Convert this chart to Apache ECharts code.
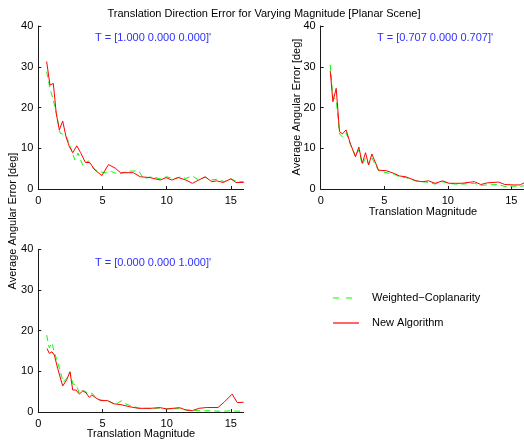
<!DOCTYPE html>
<html>
<head>
<meta charset="utf-8">
<script src="https://cdn.jsdelivr.net/npm/echarts@6/dist/echarts.min.js"></script>
<style>html,body{margin:0;padding:0;background:#fff;}#c{width:524px;height:441px;}</style>
</head>
<body>
<div id="c"></div>
<script>
// ---- data ----
const xTicks = [0, 5, 10, 15];
const yTicks = [0, 10, 20, 30, 40];
const seriesNames = ['Weighted\u2212Coplanarity', 'New Algorithm'];
const panelLabels = ["T = [1.000 0.000 0.000]'", "T = [0.707 0.000 0.707]'", "T = [0.000 0.000 1.000]'"];

// Panel 1: T = [1 0 0]
const p1GreenX = [0.65,0.91,1.17,1.43,1.7,1.95,2.2,2.5,2.85,3.1,3.45,3.9,4.25,4.7,5.2,5.7,6.25,6.9,7.8,8.2,8.85,9.5,10.0,10.55,11.1,11.5,12.0,12.5,13.0,13.5,13.9,14.5,15.0,15.5,16.0];
const p1GreenY = [28.8,24.7,21.8,18.2,13.7,13.4,12.8,10.4,7.1,8.8,5.9,6.9,5.1,4.3,4.0,4.3,3.6,4.3,4.5,2.6,3.0,2.5,3.0,2.5,3.0,2.6,3.2,2.2,2.9,2.2,2.4,1.8,2.5,1.8,1.8];
const p1RedX = [0.65,0.91,1.17,1.4,1.64,1.9,2.16,2.42,2.68,3.0,3.3,3.67,4.0,4.4,4.95,5.47,6.0,6.4,7.4,7.94,8.7,9.5,9.95,10.4,10.9,11.5,12.0,12.5,13.0,13.5,13.9,14.4,15.0,15.4,16.0];
const p1RedY = [31.3,25.5,25.9,18.5,14.5,16.7,12.8,10.4,8.9,10.6,8.9,6.5,6.5,4.7,3.3,6.0,5.1,4.0,4.0,3.0,2.8,2.2,2.8,2.2,2.8,2.2,1.4,2.2,3.0,1.8,2.0,1.6,2.5,1.6,1.6];

// Panel 2: T = [0.707 0 0.707]
const p2X = [0.75,0.96,1.22,1.48,1.7,2.0,2.35,2.74,3.0,3.27,3.53,3.77,4.03,4.55,5.15,5.8,6.2,6.7,7.5,8.0,8.5,9.0,9.6,10.1,10.6,11.1,12.1,12.6,13.1,14.0,14.5,15.2,15.7,16.0];
const p2GreenY = [30.5,22.5,22.0,13.5,12.8,13.8,10.8,8.0,9.6,6.0,7.6,6.0,7.6,4.5,4.0,3.6,3.0,2.8,2.0,1.8,1.6,1.2,1.8,1.4,1.2,1.2,1.4,0.9,1.0,1.1,0.6,0.7,0.6,0.8];
const p2RedY = [29.0,21.4,24.7,14.1,13.5,14.5,11.0,7.9,10.3,6.3,8.9,5.9,8.6,4.6,4.5,3.8,3.2,3.0,2.0,1.8,2.0,1.4,2.0,1.4,1.4,1.4,1.8,1.1,1.5,1.7,1.1,1.0,1.0,1.5];

// Panel 3: T = [0 0 1]
const p3GreenX = [0.65,0.85,1.07,1.25,1.55,1.95,2.2,2.45,2.7,2.95,3.2,3.5,3.95,4.2,4.6,5.0,5.5,6.0,6.5,6.8,7.2,7.8,8.5,9.0,9.5,10.0,10.5,11.0,11.5,12.0,12.5,13.0,13.5,14.0,14.5,15.0,15.5,16.0];
const p3GreenY = [18.9,15.8,17.0,14.6,11.8,7.3,8.2,9.8,6.9,6.7,4.6,5.3,4.5,4.6,3.1,2.9,2.6,1.8,2.8,2.0,1.5,1.0,0.9,0.9,1.0,0.8,0.8,0.8,0.5,0.4,0.4,0.3,0.3,0.2,0.2,0.3,0.2,0.3];
const p3RedX = [0.68,0.86,1.07,1.25,1.51,1.9,2.21,2.47,2.68,2.94,3.2,3.46,3.72,3.97,4.18,4.5,4.88,5.4,5.92,6.44,7.1,7.8,8.7,9.5,10.0,11.0,11.5,12.0,12.5,13.1,14.0,14.5,15.1,15.5,16.0];
const p3RedY = [15.6,14.4,14.8,14.0,10.7,6.4,7.9,9.9,5.4,5.4,4.4,5.2,4.7,3.6,4.2,3.4,2.8,2.8,2.0,1.8,1.3,0.9,0.9,1.07,0.74,1.07,0.49,0.33,0.9,1.1,1.1,2.5,4.4,2.3,2.4];

// ---- chart ----
const FONT = "'Liberation Sans', Arial, Helvetica, sans-serif";
const AX = '#1a1a1a';
const GREEN = '#00ff00';
const RED = '#ff0000';
const DASH = [6, 4];
const zip = (xs, ys) => xs.map((x, i) => [x, ys[i]]);

const grids = [
  {left: 38.3, top: 26, width: 205.4, height: 163},
  {left: 320.7, top: 26, width: 204.8, height: 163},
  {left: 38.3, top: 249.3, width: 205.4, height: 162.7}
];

function xAxis(i) {
  return {
    type: 'value', gridIndex: i, min: 0, max: 16,
    axisLine: {show: true, onZero: false, lineStyle: {color: AX, width: 1}},
    axisTick: {show: true, inside: true, length: 3, customValues: xTicks, lineStyle: {color: AX}},
    axisLabel: {customValues: xTicks, margin: 6, color: '#000', fontSize: 11, fontFamily: FONT},
    splitLine: {show: false}
  };
}
function yAxis(i) {
  return {
    type: 'value', gridIndex: i, min: 0, max: 40, interval: 10,
    axisLine: {show: true, onZero: false, lineStyle: {color: AX, width: 1}},
    axisTick: {show: true, inside: true, length: 3, lineStyle: {color: AX}},
    axisLabel: {margin: 5, color: '#000', fontSize: 11, fontFamily: FONT},
    splitLine: {show: false}
  };
}
function line(name, idx, data, color, dashed) {
  return {
    type: 'line', name: name, xAxisIndex: idx, yAxisIndex: idx, data: data,
    symbol: 'none', animation: false,
    lineStyle: {color: color, width: 1, type: dashed ? DASH : 'solid'},
    itemStyle: {color: color}
  };
}

const textStyle = {fill: '#000', fontSize: 11, fontFamily: FONT};
const blueStyle = {fill: '#2f2fff', fontSize: 11, fontFamily: FONT};

const option = {
  animation: false,
  grid: grids,
  xAxis: [xAxis(0), xAxis(1), xAxis(2)],
  yAxis: [yAxis(0), yAxis(1), yAxis(2)],
  series: [
    line(seriesNames[0], 0, zip(p1GreenX, p1GreenY), GREEN, true),
    line(seriesNames[1], 0, zip(p1RedX, p1RedY), RED, false),
    line(seriesNames[0], 1, zip(p2X, p2GreenY), GREEN, true),
    line(seriesNames[1], 1, zip(p2X, p2RedY), RED, false),
    line(seriesNames[0], 2, zip(p3GreenX, p3GreenY), GREEN, true),
    line(seriesNames[1], 2, zip(p3RedX, p3RedY), RED, false)
  ],
  graphic: [
    {type: 'text', x: 264, y: 14, style: Object.assign({text: 'Translation Direction Error for Varying Magnitude [Planar Scene]', align: 'center', verticalAlign: 'middle'}, textStyle)},
    {type: 'text', x: 153, y: 38, style: Object.assign({text: panelLabels[0], align: 'center', verticalAlign: 'middle'}, blueStyle)},
    {type: 'text', x: 435, y: 38, style: Object.assign({text: panelLabels[1], align: 'center', verticalAlign: 'middle'}, blueStyle)},
    {type: 'text', x: 153, y: 263, style: Object.assign({text: panelLabels[2], align: 'center', verticalAlign: 'middle'}, blueStyle)},
    {type: 'text', x: 13, y: 221, rotation: Math.PI / 2, style: Object.assign({text: 'Average Angular Error [deg]', align: 'center', verticalAlign: 'middle'}, textStyle)},
    {type: 'text', x: 297, y: 107, rotation: Math.PI / 2, style: Object.assign({text: 'Average Angular Error [deg]', align: 'center', verticalAlign: 'middle'}, textStyle)},
    {type: 'text', x: 423, y: 212, style: Object.assign({text: 'Translation Magnitude', align: 'center', verticalAlign: 'middle'}, textStyle)},
    {type: 'text', x: 141, y: 434, style: Object.assign({text: 'Translation Magnitude', align: 'center', verticalAlign: 'middle'}, textStyle)},
    // legend
    {type: 'line', shape: {x1: 333, y1: 298, x2: 355, y2: 298}, style: {stroke: GREEN, lineWidth: 1.2, lineDash: [6, 7]}},
    {type: 'text', x: 372, y: 298, style: Object.assign({text: seriesNames[0], align: 'left', verticalAlign: 'middle'}, textStyle)},
    {type: 'line', shape: {x1: 333, y1: 323, x2: 359, y2: 323}, style: {stroke: RED, lineWidth: 1.2}},
    {type: 'text', x: 372, y: 323, style: Object.assign({text: seriesNames[1], align: 'left', verticalAlign: 'middle'}, textStyle)}
  ]
};

const chart = echarts.init(document.getElementById('c'), null, {renderer: 'canvas'});
chart.setOption(option);
</script>
</body>
</html>
